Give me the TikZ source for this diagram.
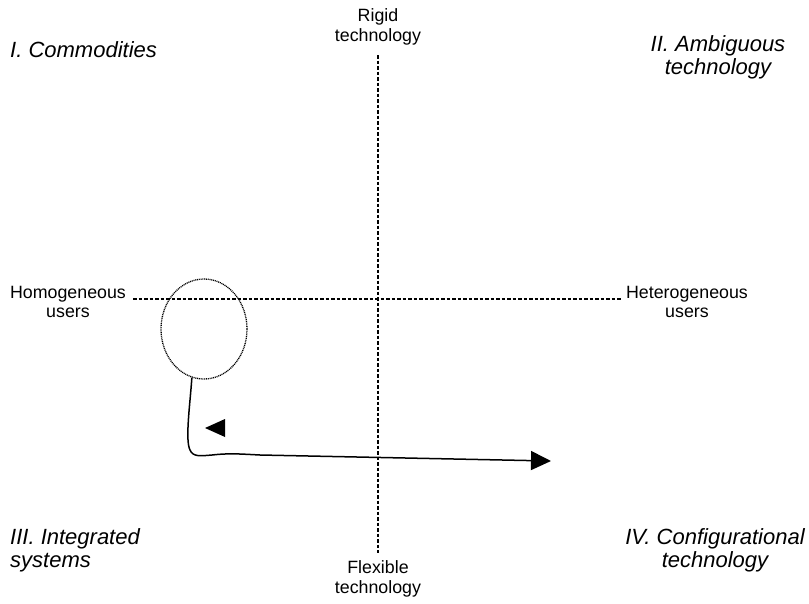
\documentclass[tikz,border=0pt]{standalone}
\usepackage{fontspec}
\setmainfont{Liberation Sans}
\usetikzlibrary{arrows.meta,shapes.geometric}
\begin{document}
\begin{tikzpicture}[x=1pt,y=-1pt,
  axis/.style={line width=1.5pt,dash pattern=on 3.5pt off 2pt},
  small/.style={font=\fontsize{17.8}{19.5}\selectfont,align=center,inner sep=0pt},
  quad/.style={font=\fontsize{22}{23}\selectfont\itshape,inner sep=0pt},
  curve/.style={line width=1.5pt,-{Triangle[length=20pt,width=19pt]}}]
\useasboundingbox (0,0) rectangle (809,603);
% axes
\coordinate (vt) at (378,55);
\coordinate (vb) at (378,553);
\coordinate (hl) at (133,299);
\coordinate (hr) at (622,299);
\draw[axis] (vt) -- (vb);
\draw[axis] (hl) -- (hr);
% axis labels
\node[small] (rigid) at (378,27) {Rigid\\technology};
\node[small] (flex) at (378,579) {Flexible\\technology};
\node[small] (homo) at (68,302) {Homogeneous\\users};
\node[small] (hetero) at (687,302) {Heterogeneous\\users};
% quadrant labels
\node[quad,anchor=west] (q1) at (10,50) {I. Commodities};
\node[quad,align=center] (q2) at (718,57) {II. Ambiguous\\technology};
\node[quad,align=left,anchor=west] (q3) at (10,550) {III. Integrated\\systems};
\node[quad,align=center] (q4) at (715,550) {IV. Configurational\\technology};
% ellipse
\node[ellipse,draw,line width=1.3pt,dash pattern=on 1pt off 0.8pt,minimum width=86pt,minimum height=100pt,inner sep=0pt] (e) at (204,329) {};
% curve
\coordinate (tip) at (551,461);
\draw[curve] (e.-104) .. controls (190,405) and (185,440) .. (190,450)
  .. controls (193,457) and (200,456) .. (212,455)
  .. controls (230,453) and (240,454) .. (260,455) -- (tip);
% standalone left-pointing triangle
\coordinate (lt) at (205,428);
\fill (lt) -- ++(20,-9) -- ++(0,18) -- cycle;
\end{tikzpicture}
\end{document}
